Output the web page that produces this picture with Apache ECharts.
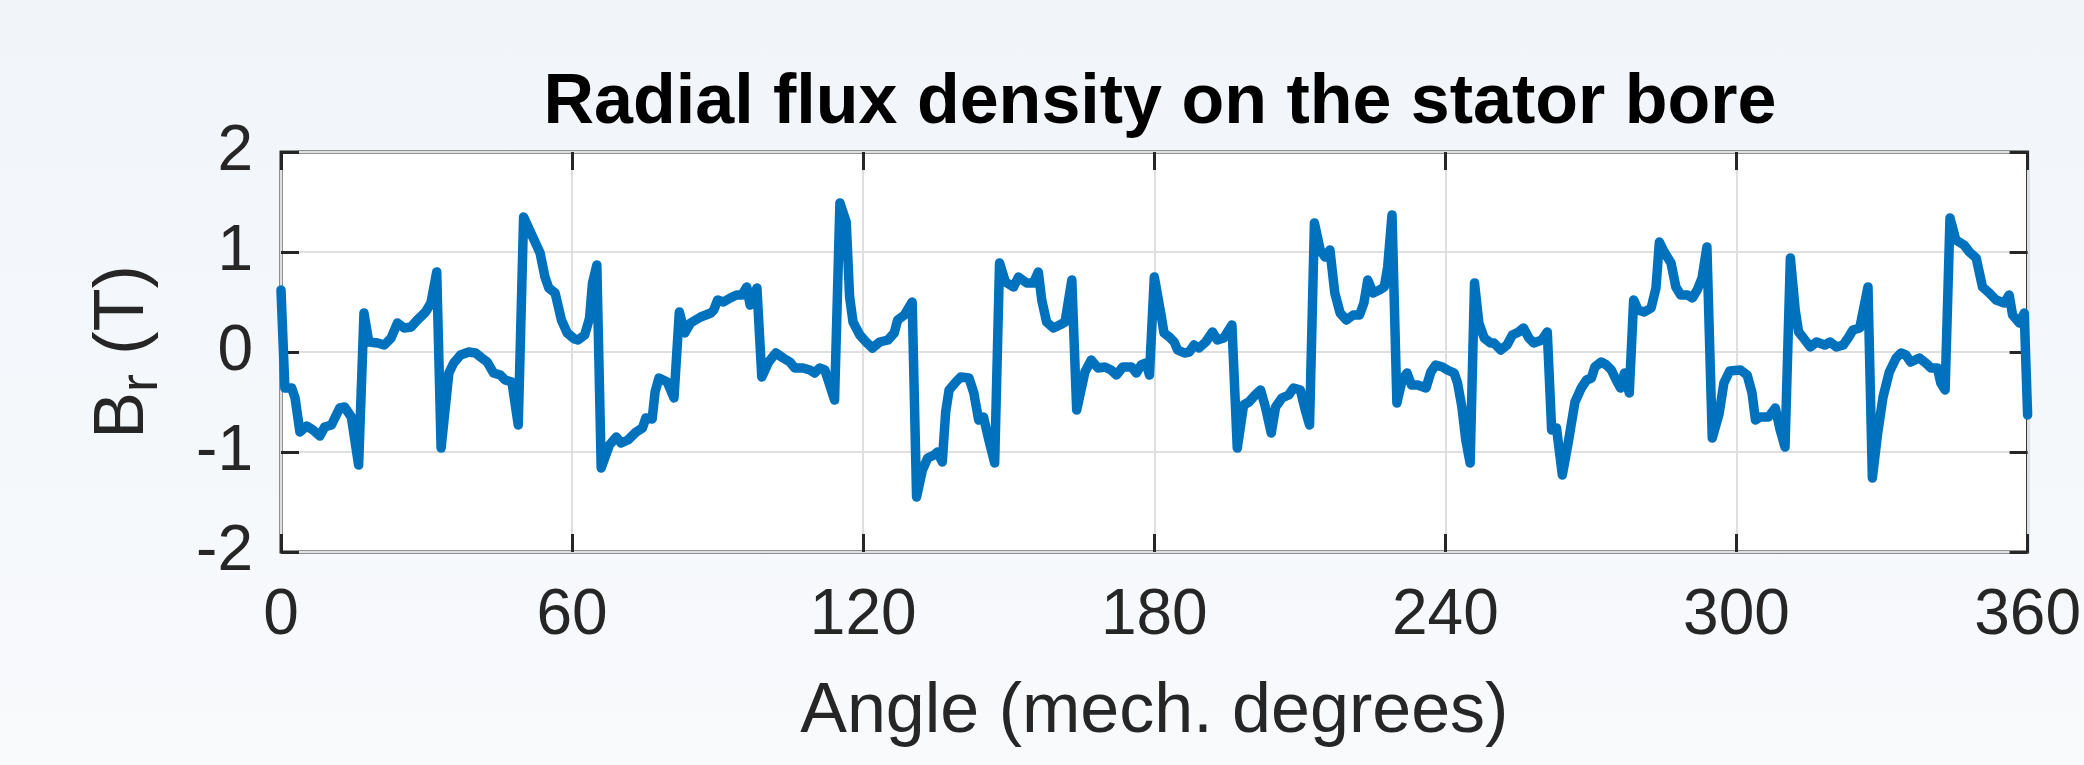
<!DOCTYPE html>
<html>
<head>
<meta charset="utf-8">
<title>Radial flux density on the stator bore</title>
<script src="https://cdn.jsdelivr.net/npm/echarts@6/dist/echarts.min.js"></script>
<style>
    html, body { margin: 0; padding: 0; }
    #chart {
        width: 2084px;
        height: 765px;
        background: linear-gradient(to bottom, #f1f5fa, #f8fafc);
    }
</style>
</head>
<body>
<div id="chart"></div>
<script>
// angle samples (mech. degrees) and radial flux density (T)
var angleDeg = [
    0, 0.8, 2.2, 2.9, 3.9, 5.3, 6.6, 8.0, 9.0, 10.4, 12.1, 13.1, 14.5, 16.0, 17.1, 18.1, 19.9, 21.3, 22.7, 24.0,
    25.4, 26.8, 28.1, 29.8, 30.9, 32.1, 33.0, 34.6, 35.6, 37.0, 38.7, 40.1, 41.4, 42.5, 43.8, 45.2, 46.2, 47.6, 48.9, 50.0,
    51.7, 53.4, 54.4, 55.2, 56.5, 57.8, 59.0, 60.5, 61.2, 62.6, 63.6, 64.2, 65.1, 66.0, 67.7, 69.1, 70.1, 71.5, 73.2, 74.5,
    75.2, 76.5, 77.1, 77.9, 79.6, 81.0, 82.1, 83.2, 84.4, 86.5, 88.6, 89.2, 90.0, 91.2, 92.6, 93.9, 95.0, 96.0, 96.7, 98.1,
    99.1, 100.5, 102.0, 103.5, 104.9, 105.9, 107.6, 109.0, 110.0, 111.0, 112.1, 114.1, 115.2, 116.5, 117.2, 117.9, 119.3, 120.6, 121.9, 123.4,
    125.1, 126.4, 127.1, 128.5, 130.1, 131.0, 132.2, 133.3, 134.6, 135.3, 136.3, 137.0, 137.7, 139.1, 140.1, 141.8, 142.8, 143.8, 144.8, 145.9,
    147.1, 148.1, 149.3, 151.0, 152.0, 153.7, 155.1, 156.1, 156.8, 157.8, 159.2, 160.5, 161.6, 163.0, 164.0, 165.7, 167.0, 168.4, 169.8, 171.1,
    172.2, 173.5, 175.3, 176.3, 177.3, 178.3, 179.0, 180.0, 181.4, 182.0, 183.1, 184.1, 184.8, 186.2, 187.2, 188.2, 189.2, 190.6, 192.0, 193.0,
    194.3, 196.0, 197.1, 198.4, 199.5, 200.8, 201.9, 202.9, 204.1, 205.0, 206.3, 207.7, 208.7, 210.1, 211.1, 212.0, 213.0, 214.2, 215.2, 216.2,
    217.2, 218.3, 219.6, 221.0, 222.3, 223.2, 224.0, 225.1, 226.4, 227.4, 228.1, 229.0, 230.0, 231.1, 232.1, 233.0, 234.3, 236.0, 237.0, 238.0,
    239.4, 240.4, 241.8, 242.5, 243.4, 244.2, 245.1, 246.0, 246.9, 248.0, 249.3, 250.0, 251.4, 252.7, 253.8, 255.1, 256.1, 257.2, 258.2, 259.9,
    261.0, 261.9, 262.9, 264.1, 265.3, 266.7, 268.0, 269.1, 270.1, 270.8, 272.1, 273.2, 274.2, 275.2, 276.1, 276.9, 277.9, 278.8, 279.7, 281.0,
    282.4, 283.4, 284.1, 285.1, 286.5, 287.5, 288.5, 289.9, 290.9, 291.9, 292.9, 293.9, 295.0, 296.4, 297.4, 298.6, 300.8, 302.2, 303.2, 303.9,
    304.9, 306.6, 308.0, 309.0, 310.0, 311.1, 312.1, 312.8, 313.8, 315.2, 316.5, 318.2, 319.3, 320.6, 322.0, 323.0, 324.0, 325.4, 327.1, 328.0,
    329.1, 330.2, 331.5, 332.9, 333.9, 334.9, 335.9, 337.7, 339.0, 340.1, 341.4, 342.1, 343.0, 344.0, 345.2, 346.9, 348.0, 349.4, 350.7, 352.1,
    353.5, 355.2, 356.2, 356.9, 358.3, 359.3, 360.0
];
var fluxT = [
    0.62, -0.36, -0.36, -0.46, -0.80, -0.74, -0.78, -0.84, -0.75, -0.73, -0.56, -0.55, -0.65, -1.13, 0.39, 0.10, 0.09, 0.07, 0.14, 0.29,
    0.24, 0.25, 0.32, 0.40, 0.49, 0.80, -0.96, -0.21, -0.11, -0.03, 0.00, -0.01, -0.06, -0.10, -0.21, -0.23, -0.28, -0.30, -0.73, 1.35,
    1.17, 0.99, 0.75, 0.64, 0.59, 0.32, 0.19, 0.13, 0.12, 0.17, 0.34, 0.69, 0.87, -1.16, -0.93, -0.85, -0.91, -0.88, -0.80, -0.76,
    -0.66, -0.67, -0.40, -0.26, -0.30, -0.46, 0.40, 0.19, 0.29, 0.35, 0.39, 0.42, 0.52, 0.50, 0.54, 0.57, 0.57, 0.65, 0.47, 0.64,
    -0.25, -0.10, -0.01, -0.06, -0.10, -0.16, -0.16, -0.18, -0.21, -0.16, -0.18, -0.48, 1.49, 1.30, 0.55, 0.30, 0.17, 0.10, 0.04, 0.10,
    0.12, 0.19, 0.32, 0.37, 0.50, -1.45, -1.18, -1.06, -1.03, -1.00, -1.10, -0.60, -0.38, -0.30, -0.25, -0.26, -0.41, -0.68, -0.65, -0.88,
    -1.11, 0.89, 0.70, 0.65, 0.75, 0.69, 0.69, 0.80, 0.52, 0.30, 0.24, 0.27, 0.30, 0.72, -0.58, -0.20, -0.08, -0.16, -0.15, -0.18,
    -0.23, -0.15, -0.15, -0.21, -0.13, -0.11, -0.23, 0.75, 0.37, 0.19, 0.15, 0.10, 0.02, -0.01, 0.00, 0.07, 0.04, 0.10, 0.20, 0.12,
    0.14, 0.27, -0.96, -0.53, -0.50, -0.43, -0.38, -0.55, -0.81, -0.55, -0.46, -0.43, -0.36, -0.38, -0.58, -0.73, 1.29, 1.02, 0.95, 1.02,
    0.59, 0.39, 0.32, 0.37, 0.37, 0.49, 0.72, 0.59, 0.62, 0.65, 0.85, 1.37, -0.51, -0.28, -0.21, -0.33, -0.33, -0.36, -0.20, -0.13,
    -0.15, -0.18, -0.21, -0.31, -0.55, -0.88, -1.11, 0.69, 0.29, 0.14, 0.09, 0.09, 0.02, 0.07, 0.17, 0.20, 0.24, 0.14, 0.09, 0.12,
    0.20, -0.78, -0.76, -1.23, -0.91, -0.50, -0.36, -0.28, -0.26, -0.15, -0.10, -0.13, -0.18, -0.28, -0.36, -0.21, -0.41, 0.52, 0.42, 0.40,
    0.44, 0.64, 1.10, 1.00, 0.89, 0.65, 0.57, 0.57, 0.54, 0.62, 0.74, 1.05, -0.86, -0.62, -0.31, -0.19, -0.18, -0.23, -0.41, -0.68,
    -0.65, -0.65, -0.56, -0.78, -0.95, 0.94, 0.42, 0.20, 0.14, 0.05, 0.10, 0.07, 0.10, 0.05, 0.07, 0.14, 0.22, 0.24, 0.65, -1.26,
    -0.81, -0.45, -0.20, -0.06, -0.01, -0.03, -0.10, -0.06, -0.11, -0.16, -0.16, -0.31, -0.38, 1.34, 1.12, 1.07, 1.00, 0.94, 0.65, 0.59,
    0.52, 0.49, 0.57, 0.37, 0.29, 0.39, -0.63
];
var angleTicks = [0, 60, 120, 180, 240, 300, 360];
var fluxTicks = [-2, -1, 0, 1, 2];

var axisColor = '#262626';
var fontFamily = '"Liberation Sans", Arial, Helvetica, sans-serif';

var points = [];
for (var i = 0; i < angleDeg.length; i++) {
    points.push([angleDeg[i], fluxT[i]]);
}

var myChart = echarts.init(document.getElementById('chart'), null, {renderer: 'canvas'});

// inside ticks, used for all four sides of the box
function ticks() {
    return {
        show: true,
        inside: true,
        length: 18,
        lineStyle: {color: axisColor, width: 3}
    };
}
var noLine = {show: false, onZero: false};

var option = {
    backgroundColor: 'transparent',
    animation: false,
    title: {
        text: 'Radial flux density on the stator bore',
        left: 1160,
        top: 69,
        padding: 0,
        textAlign: 'center',
        textStyle: {
            fontFamily: fontFamily,
            fontSize: 70,
            fontWeight: 'bold',
            color: '#000'
        }
    },
    grid: {
        left: 281,
        right: 45,
        top: 152,
        bottom: 213,
        show: true,
        backgroundColor: '#fff',
        borderColor: axisColor,
        borderWidth: 3
    },
    xAxis: [{
        type: 'value',
        position: 'bottom',
        min: angleTicks[0],
        max: angleTicks[angleTicks.length - 1],
        interval: angleTicks[1] - angleTicks[0],
        name: 'Angle (mech. degrees)',
        nameLocation: 'middle',
        nameGap: 126,
        nameTextStyle: {fontFamily: fontFamily, fontSize: 70, color: axisColor},
        axisLine: noLine,
        axisTick: ticks(),
        axisLabel: {fontFamily: fontFamily, fontSize: 64, color: axisColor, margin: 32},
        splitLine: {show: true, lineStyle: {color: '#dfdfdf', width: 2}}
    }, {
        type: 'value',
        position: 'top',
        min: angleTicks[0],
        max: angleTicks[angleTicks.length - 1],
        interval: angleTicks[1] - angleTicks[0],
        axisLine: noLine,
        axisTick: ticks(),
        axisLabel: {show: false},
        splitLine: {show: false}
    }],
    yAxis: [{
        type: 'value',
        position: 'left',
        min: fluxTicks[0],
        max: fluxTicks[fluxTicks.length - 1],
        interval: fluxTicks[1] - fluxTicks[0],
        name: '{b|B}{s|r}{b| (T)}',
        nameLocation: 'middle',
        nameRotate: 90,
        nameGap: 112,
        nameTextStyle: {
            rich: {
                b: {fontFamily: fontFamily, fontSize: 70, color: axisColor, lineHeight: 80, verticalAlign: 'top'},
                s: {fontFamily: fontFamily, fontSize: 54, color: axisColor, lineHeight: 54, verticalAlign: 'bottom', padding: [66, 0, 0, 0]}
            }
        },
        axisLine: noLine,
        axisTick: ticks(),
        axisLabel: {fontFamily: fontFamily, fontSize: 64, color: axisColor, margin: 28},
        splitLine: {show: true, lineStyle: {color: '#dfdfdf', width: 2}}
    }, {
        type: 'value',
        position: 'right',
        min: fluxTicks[0],
        max: fluxTicks[fluxTicks.length - 1],
        interval: fluxTicks[1] - fluxTicks[0],
        axisLine: noLine,
        axisTick: ticks(),
        axisLabel: {show: false},
        splitLine: {show: false}
    }],
    series: [{
        name: 'Br',
        type: 'line',
        xAxisIndex: 0,
        yAxisIndex: 0,
        showSymbol: false,
        symbol: 'none',
        smooth: false,
        lineStyle: {color: '#0072BD', width: 9.5, join: 'round', cap: 'round'},
        data: points
    }]
};
myChart.setOption(option);
</script>
</body>
</html>
